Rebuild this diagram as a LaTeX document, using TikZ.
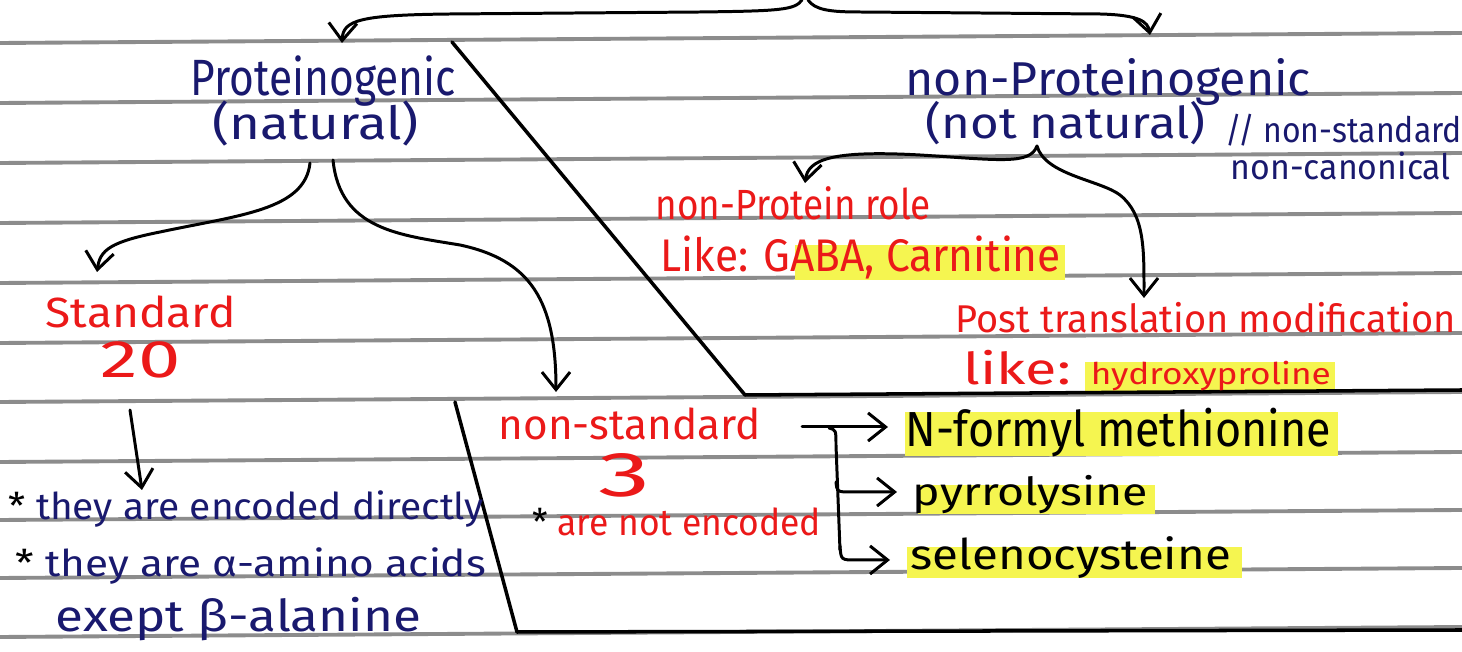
\documentclass[tikz,border=0pt]{standalone}
\usepackage{fontspec}
\setmainfont{Fira Sans}
\usetikzlibrary{arrows.meta}
\definecolor{navy}{RGB}{25,25,110}
\definecolor{pen}{RGB}{235,25,25}
\definecolor{hl}{RGB}{245,245,80}
\definecolor{rulegray}{RGB}{140,140,140}
\newcommand\fw[3]{\resizebox{#1}{\height}{\fontsize{#2}{#2}\selectfont #3}}
\begin{document}
\begin{tikzpicture}[x=0.01cm,y=-0.01cm,
  txt/.style={inner sep=0pt, anchor=base west},
  bluetxt/.style={txt, text=navy},
  redtxt/.style={txt, text=pen},
  blktxt/.style={txt, text=black},
  ink/.style={line width=0.85pt, black, line cap=round, line join=round},
  arr/.style={ink, -{Straight Barb[length=5pt,width=8pt]}},
  rulel/.style={rulegray, line width=1.1pt},
  hlbox/.style={fill=hl, draw=none}]
\useasboundingbox (0,0) rectangle (1462,652);
\fill[white] (0,0) rectangle (1462,652);
% ruled lines
\foreach \y in {43,103,163,223,283,343,402,462,520,578,637}
  \draw[rulel] (0,\y) -- (1462,\y-10);
% highlights
\fill[hlbox] (795,245) rectangle (1065,280);
\fill[hlbox] (1085,362) rectangle (1335,392);
\fill[hlbox] (905,412) rectangle (1338,456);
\fill[hlbox] (918,485) rectangle (1155,514);
\fill[hlbox] (907,547) rectangle (1242,578);
% box lines
\coordinate (d1) at (452,42);
\coordinate (d2) at (745,395);
\coordinate (d3) at (1462,390);
\coordinate (e1) at (455,402);
\coordinate (e2) at (517,632);
\coordinate (e3) at (1462,630);
\draw[ink, line width=1pt] (d1) -- (d2) -- (d3);
\draw[ink, line width=1pt] (e1) -- (e2) -- (e3);
% texts
\node[bluetxt] (pro) at (190,96) {\fw{2.65cm}{14.5}{Proteinogenic}};
\node[bluetxt] (nat) at (212,140) {\fw{2.06cm}{13}{(natural)}};
\node[bluetxt] (npro) at (905,96) {\fw{4.05cm}{13.5}{non-Proteinogenic}};
\node[bluetxt] (nnat) at (925,139) {\fw{2.8cm}{12.5}{(not natural)}};
\node[bluetxt] (alt1) at (1225,143) {\fw{2.36cm}{10}{// non-standard}};
\node[bluetxt] (alt2) at (1230,180) {\fw{2.2cm}{10}{non-canonical}};
\node[redtxt] (nprole) at (655,220) {\fw{2.75cm}{12}{non-Protein role}};
\node[redtxt] (like1) at (660,272) {\fw{4.0cm}{13}{Like: GABA, Carnitine}};
\node[redtxt] (ptm) at (955,333) {\fw{5.0cm}{11}{Post translation modification}};
\node[redtxt] (like2) at (963,385) {\fw{1.07cm}{12.5}{like:}\hspace{0.2cm}\fw{2.4cm}{8.5}{hydroxyproline}};
\node[redtxt] (std) at (45,328) {\fw{1.9cm}{12}{Standard}};
\node[redtxt] (twenty) at (100,378) {\fw{0.8cm}{15}{20}};
\node[bluetxt] (b1) at (8,520) {\fw{4.75cm}{10.5}{{\color{black}*} they are encoded directly}};
\node[bluetxt] (b2) at (15,577) {\fw{4.7cm}{10.5}{{\color{black}*} they are α-amino acids}};
\node[bluetxt] (b3) at (55,632) {\fw{3.65cm}{12.5}{exept β-alanine}};
\node[redtxt] (nstd) at (498,440) {\fw{2.62cm}{12}{non-standard}};
\node[redtxt] (three) at (598,497) {\fw{0.52cm}{18}{3}};
\node[redtxt] (notenc) at (532,536) {\fw{2.88cm}{10.5}{{\color{black}*} are not encoded}};
\node[blktxt] (nfm) at (905,447) {\fw{4.25cm}{14}{N-formyl methionine}};
\node[blktxt] (pyr) at (912,506) {\fw{2.35cm}{11}{pyrrolysine}};
\node[blktxt] (sel) at (910,570) {\fw{3.2cm}{12}{selenocysteine}};
% top brace
\coordinate (top) at (805,0);
\draw[arr] (802,0) .. controls (795,10) and (780,11) .. (700,12) -- (450,14) .. controls (360,15) and (343,20) .. (342,43);
\draw[arr] (808,0) .. controls (815,10) and (830,12) .. (860,12) -- (1100,14) .. controls (1140,15) and (1148,22) .. (1150,35);
% natural branches
\coordinate (natL) at (310,163);
\coordinate (natR) at (333,160);
\draw[arr] (natL) .. controls (305,210) and (240,215) .. (160,232) .. controls (110,242) and (100,250) .. (97,272);
\draw[arr] (natR) .. controls (340,230) and (400,235) .. (460,245) .. controls (530,260) and (556,300) .. (556,392);
% not natural branches
\coordinate (nn) at (1037,146);
\draw[arr] (nn) .. controls (1030,165) and (1000,160) .. (920,155) .. controls (830,150) and (808,160) .. (805,183);
\draw[arr] (nn) .. controls (1045,175) and (1100,180) .. (1120,195) .. controls (1145,215) and (1144,250) .. (1144,298);
% standard arrow
\coordinate (s1) at (130,410);
\draw[arr] (s1) -- (142,490);
% non-standard arrows
\coordinate (ns1) at (802,427);
\draw[arr] (ns1) -- (888,427);
\draw[ink] (829,428) .. controls (836,430) .. (836,445) -- (840,550);
\draw[arr] (836,482) .. controls (837,492) .. (852,492) -- (897,492);
\draw[arr] (840,546) .. controls (841,560) .. (856,560) -- (890,560);
\end{tikzpicture}
\end{document}
